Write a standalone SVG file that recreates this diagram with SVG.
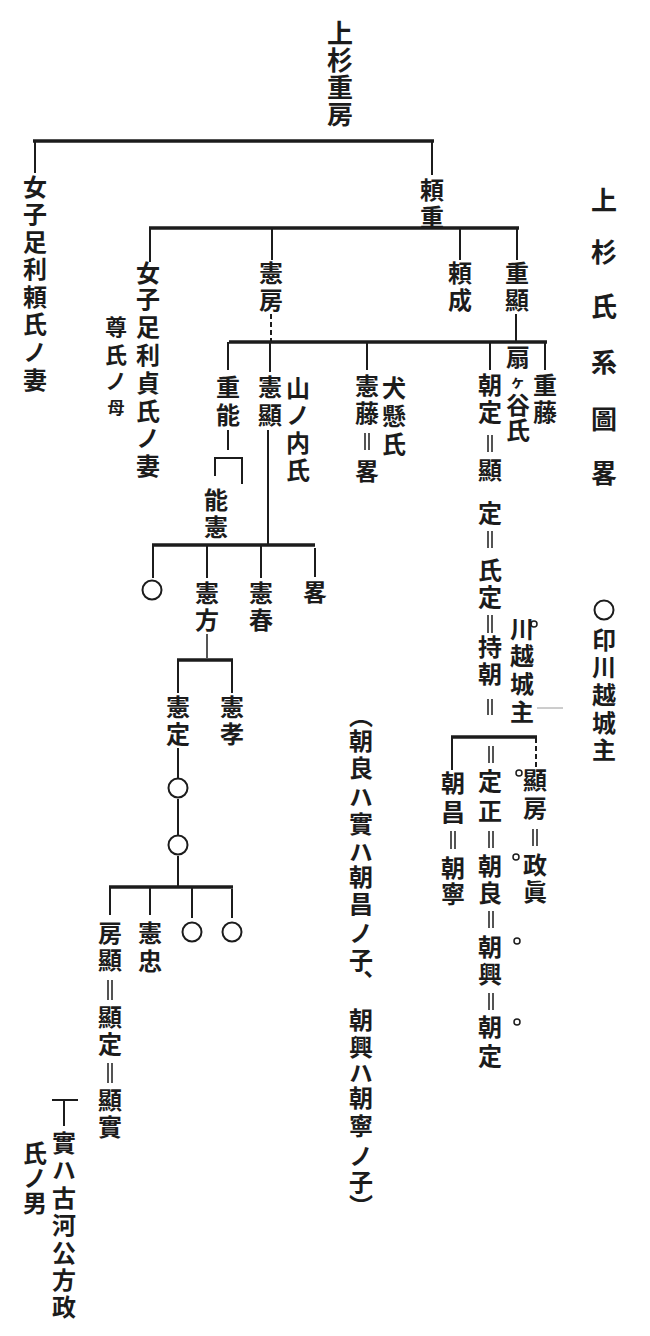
<svg xmlns="http://www.w3.org/2000/svg" width="650" height="1336" viewBox="0 0 650 1336">
<style>
.t{font-family:"Noto Sans CJK JP","Noto Sans CJK SC",sans-serif;font-size:24px;font-weight:700;fill:#1c1c1c;writing-mode:vertical-rl}
.big{font-size:26px}
.sm{font-size:22px}
.h{stroke:#1c1c1c;stroke-width:3.5;fill:none}
.v{stroke:#1c1c1c;stroke-width:2;fill:none}
.th{stroke:#1c1c1c;stroke-width:1.5;fill:none}
.d{stroke-dasharray:5 3}
.c{fill:none;stroke:#1c1c1c;stroke-width:2}
.dot{fill:none;stroke:#1c1c1c;stroke-width:1.5}
</style>
<rect width="650" height="1336" fill="#ffffff"/>
<g id="connectors">
<line class="h" x1="33" y1="141" x2="434" y2="141"/>
<line class="v" x1="35" y1="141" x2="35" y2="173"/>
<line class="v" x1="432" y1="141" x2="432" y2="175"/>
<line class="h" x1="149" y1="228" x2="519" y2="228"/>
<line class="v" x1="150" y1="228" x2="150" y2="262"/>
<line class="v" x1="272" y1="228" x2="272" y2="260"/>
<line class="v" x1="460" y1="228" x2="460" y2="260"/>
<line class="v" x1="517" y1="228" x2="517" y2="260"/>
<line class="v d" x1="271" y1="314" x2="271" y2="342"/>
<line class="v" x1="516" y1="314" x2="516" y2="342"/>
<line class="h" x1="229" y1="342" x2="547" y2="342"/>
<line class="v" x1="228" y1="342" x2="228" y2="370"/>
<line class="v" x1="270" y1="342" x2="270" y2="372"/>
<line class="v" x1="367" y1="342" x2="367" y2="370"/>
<line class="v" x1="490" y1="342" x2="490" y2="370"/>
<line class="v" x1="545" y1="342" x2="545" y2="370"/>
<line class="v" x1="228" y1="430" x2="228" y2="450"/>
<path class="v" d="M215,476 V458 H242 V484"/>
<line class="v" x1="268" y1="430" x2="268" y2="545"/>
<line class="h" x1="152" y1="545" x2="315" y2="545"/>
<line class="v" x1="153" y1="545" x2="153" y2="578"/>
<line class="v" x1="207" y1="545" x2="207" y2="578"/>
<line class="v" x1="261" y1="545" x2="261" y2="578"/>
<line class="v" x1="315" y1="548" x2="315" y2="577"/>
<line class="th" x1="207" y1="634" x2="207" y2="658"/>
<line class="h" x1="177" y1="660" x2="233" y2="660"/>
<line class="v" x1="178" y1="660" x2="178" y2="693"/>
<line class="v" x1="232" y1="660" x2="232" y2="693"/>
<line class="v" x1="178" y1="748" x2="178" y2="778"/>
<line class="v" x1="178" y1="799" x2="178" y2="835"/>
<line class="v" x1="178" y1="856" x2="178" y2="887"/>
<line class="h" x1="109" y1="887" x2="233" y2="887"/>
<line class="v" x1="110" y1="887" x2="110" y2="915"/>
<line class="v" x1="150" y1="887" x2="150" y2="915"/>
<line class="v" x1="192" y1="887" x2="192" y2="918"/>
<line class="v" x1="232" y1="889" x2="232" y2="918"/>
<line class="h" x1="451" y1="737" x2="537" y2="737"/>
<line class="v" x1="452" y1="737" x2="452" y2="770"/>
<line class="v d" x1="536" y1="738" x2="536" y2="767"/>
<line class="v" x1="52" y1="1100" x2="78" y2="1100"/>
<line class="v" x1="64" y1="1100" x2="64" y2="1126"/>
<line x1="537" y1="708" x2="563" y2="708" stroke="#9a9a9a" stroke-width="1"/>
<g class="th">
<path d="M365,433 V450 M369,433 V450"/>
<path d="M488,435 V452 M492,435 V452"/>
<path d="M488,531 V548 M492,531 V548"/>
<path d="M488,615 V633 M492,615 V633"/>
<path d="M488,699 V715 M492,699 V715"/>
<path d="M489,746 V763 M493,746 V763"/>
<path d="M489,831 V848 M493,831 V848"/>
<path d="M489,911 V928 M493,911 V928"/>
<path d="M489,993 V1010 M493,993 V1010"/>
<path d="M451,831 V849 M455,831 V849"/>
<path d="M533,829 V846 M537,829 V846"/>
<path d="M108,980 V1000 M112,980 V1000"/>
<path d="M108,1063 V1083 M112,1063 V1083"/>
</g>
</g>
<g id="title"><text class="t big" x="604" y="187 239 293 349 406 460">上杉氏系圖畧</text></g>
<g id="legend"><circle class="c" cx="604" cy="610" r="9.5"/><text class="t" x="604" y="628 655 683 711 738">印川越城主</text></g>
<g id="n-shigefusa"><text class="t big" x="340" y="20 47 74 101">上杉重房</text></g>
<g id="n-daughter1"><text class="t" x="35" y="175 202 230 257 285 312 340 368">女子足利頼氏ノ妻</text></g>
<g id="n-yorishige"><text class="t" x="432" y="178 205">頼重</text></g>
<g id="n-daughter2"><text class="t" x="148" y="261 287 315 343 371 399 426 454">女子足利貞氏ノ妻</text><text class="t sm" x="116" y="316 344 370">尊氏ノ</text><text class="t" x="116" y="399" style="font-size:17px">母</text></g>
<g id="n-norifusa"><text class="t" x="271" y="261 288">憲房</text></g>
<g id="n-yorinari"><text class="t" x="460" y="261 288">頼成</text></g>
<g id="n-shigeaki"><text class="t" x="517" y="261 288">重顯</text></g>
<g id="n-shigeyoshi"><text class="t" x="228" y="375 403">重能</text></g>
<g id="n-noriaki"><text class="t" x="270" y="375 403">憲顯</text><text class="t" x="298" y="376 403 431 458">山ノ内氏</text></g>
<g id="n-norifuji"><text class="t" x="367" y="374 401">憲藤</text><text class="t" x="367" y="459">畧</text><text class="t" x="394" y="376 404 432">犬懸氏</text></g>
<g id="n-tomosada"><text class="t" x="490" y="373 400 458 501 558 585 635 662 769 799 854 881 935 962 1015 1044">朝定顯定氏定持朝定正朝良朝興朝定</text><text class="t" x="518" y="345">扇</text><text class="t" x="516" y="375" style="font-size:16px">ヶ</text><text class="t" x="518" y="393 418">谷氏</text></g>
<g id="n-shigefuji"><text class="t" x="545" y="373 400">重藤</text></g>
<g id="n-yoshinori"><text class="t" x="216" y="488 515">能憲</text></g>
<g id="n-unknown1"><circle class="c" cx="152" cy="590" r="9.5"/></g>
<g id="n-norikata"><text class="t" x="207" y="581 608">憲方</text></g>
<g id="n-noriharu"><text class="t" x="261" y="581 608">憲春</text></g>
<g id="n-ryaku"><text class="t" x="315" y="580">畧</text></g>
<g id="n-norisada"><text class="t" x="178" y="695 722">憲定</text></g>
<g id="n-noritaka"><text class="t" x="232" y="695 722">憲孝</text></g>
<g id="n-unknown2"><circle class="c" cx="178" cy="788" r="9.5"/></g>
<g id="n-unknown3"><circle class="c" cx="178" cy="845" r="9.5"/></g>
<g id="n-fusaaki"><text class="t" x="110" y="921 948 1005 1032 1088 1115">房顯顯定顯實</text></g>
<g id="n-noritada"><text class="t" x="150" y="921 949">憲忠</text></g>
<g id="n-unknown4"><circle class="c" cx="192" cy="932" r="9.5"/></g>
<g id="n-unknown5"><circle class="c" cx="232" cy="932" r="9.5"/></g>
<g id="note-akizane"><text class="t" x="64" y="1131 1158 1186 1213 1241 1268 1295">實ハ古河公方政</text><text class="t" x="35" y="1141 1166 1191">氏ノ男</text></g>
<g id="note-paren"><text class="t" x="361" y="704 729 756 785 812 840 865 892 921 948 970 1008 1035 1061 1086 1114 1144 1170 1194">（朝良ハ實ハ朝昌ノ子、朝興ハ朝寧ノ子）</text></g>
<g id="n-kawagoe"><text class="t" x="522" y="617 644 672 700">川越城主</text><circle class="dot" cx="534" cy="624" r="3"/></g>
<g id="n-tomomasa"><text class="t" x="453" y="771 800 856 882">朝昌朝寧</text></g>
<g id="n-akifusa"><text class="t" x="535" y="768 796 853 880">顯房政眞</text></g>
<g id="marks"><circle class="dot" cx="519" cy="773" r="3"/><circle class="dot" cx="516" cy="857" r="3"/><circle class="dot" cx="517" cy="941" r="3"/><circle class="dot" cx="517" cy="1022" r="3"/></g>
</svg>
